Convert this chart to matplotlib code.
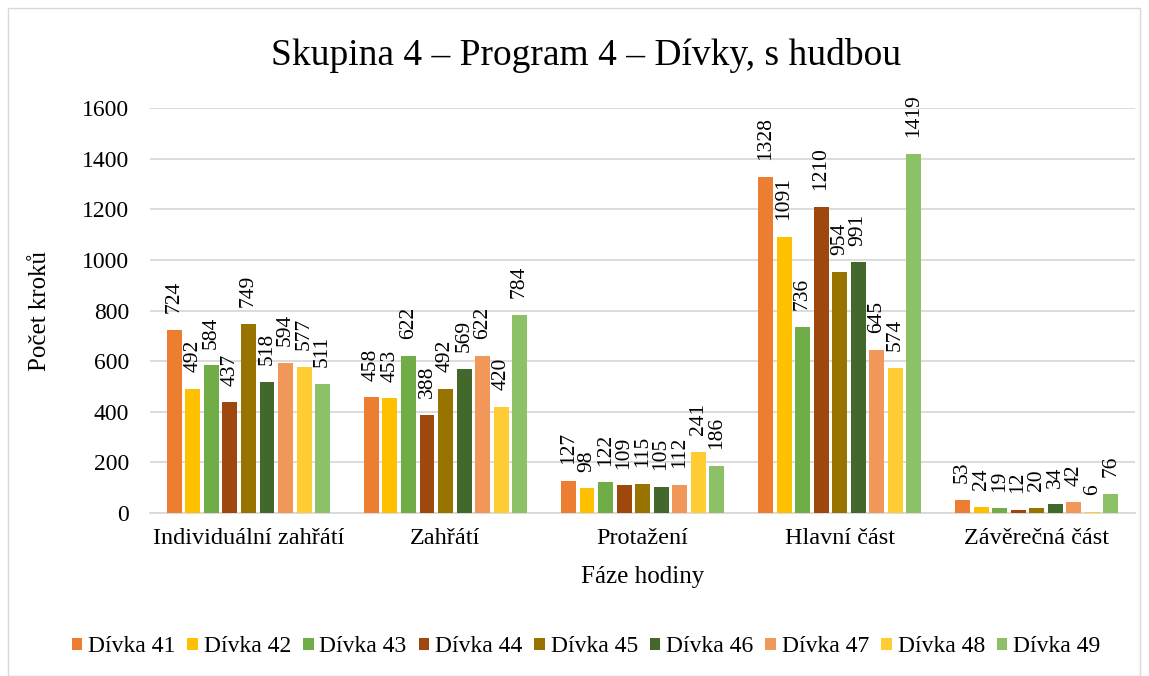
import matplotlib.pyplot as plt
import numpy as np
from matplotlib.patches import Rectangle

plt.rcParams['font.family'] = ['Liberation Serif', 'DejaVu Serif']

# Data
phases = ['Individuální zahřátí', 'Zahřátí', 'Protažení', 'Hlavní část', 'Závěrečná část']
girls = ['Dívka 41', 'Dívka 42', 'Dívka 43', 'Dívka 44', 'Dívka 45',
         'Dívka 46', 'Dívka 47', 'Dívka 48', 'Dívka 49']
d41 = [724, 458, 127, 1328, 53]
d42 = [492, 453, 98, 1091, 24]
d43 = [584, 622, 122, 736, 19]
d44 = [437, 388, 109, 1210, 12]
d45 = [749, 492, 115, 954, 20]
d46 = [518, 569, 105, 991, 34]
d47 = [594, 622, 112, 645, 42]
d48 = [577, 420, 241, 574, 6]
d49 = [511, 784, 186, 1419, 76]
series = [d41, d42, d43, d44, d45, d46, d47, d48, d49]
colors = ['#ED7D31', '#FFC000', '#70AD47', '#9E480E', '#997300',
          '#43682B', '#F1975A', '#FFCD33', '#8CC168']

fig = plt.figure(figsize=(11.49, 6.76), dpi=100)
ax = fig.add_axes([0.1305, 0.241, 0.8575, 0.599])

x = np.arange(len(phases))
slot = 0.094
width = 0.076
for i, (vals, name, c) in enumerate(zip(series, girls, colors)):
    pos = x + (i - 4) * slot
    bars = ax.bar(pos, vals, width, color=c, label=name, zorder=3)
    for b, v in zip(bars, vals):
        ax.annotate(str(v), (b.get_x() + b.get_width() / 2, v),
                    xytext=(0, 12), textcoords='offset points',
                    rotation=90, ha='center', va='bottom', fontsize=15.5)

ax.set_xlim(-0.5, 4.5)
ax.set_ylim(0, 1600)
ax.set_yticks(range(0, 1601, 200))
ax.set_xticks(x)
ax.set_xticklabels(phases, fontsize=17.5)
ax.tick_params(axis='y', labelsize=17, length=0, pad=15)
ax.tick_params(axis='x', length=0, pad=11)
ax.grid(axis='y', color='#D9D9D9', linewidth=1.3, zorder=0)
for s in ['top', 'right', 'left']:
    ax.spines[s].set_visible(False)
ax.spines['bottom'].set_color('#D9D9D9')
ax.spines['bottom'].set_linewidth(1.3)

ax.set_xlabel('Fáze hodiny', fontsize=18, labelpad=12)
ax.set_ylabel('Počet kroků', fontsize=18, labelpad=22)
fig.text(0.510, 0.918, 'Skupina 4 – Program 4 – Dívky, s hudbou',
         ha='center', va='center', fontsize=27)

fig.legend(loc='center', bbox_to_anchor=(0.51, 0.043), ncol=9, frameon=False,
           prop={'family': 'Liberation Serif', 'size': 17},
           handlelength=0.45, handleheight=0.45, handletextpad=0.25,
           columnspacing=0.5)

fig.patches.append(Rectangle((0.007, 0.0), 0.985, 0.988, transform=fig.transFigure,
                             fill=False, edgecolor='#D9D9D9', linewidth=1))

fig.savefig('out.png', dpi=100)
